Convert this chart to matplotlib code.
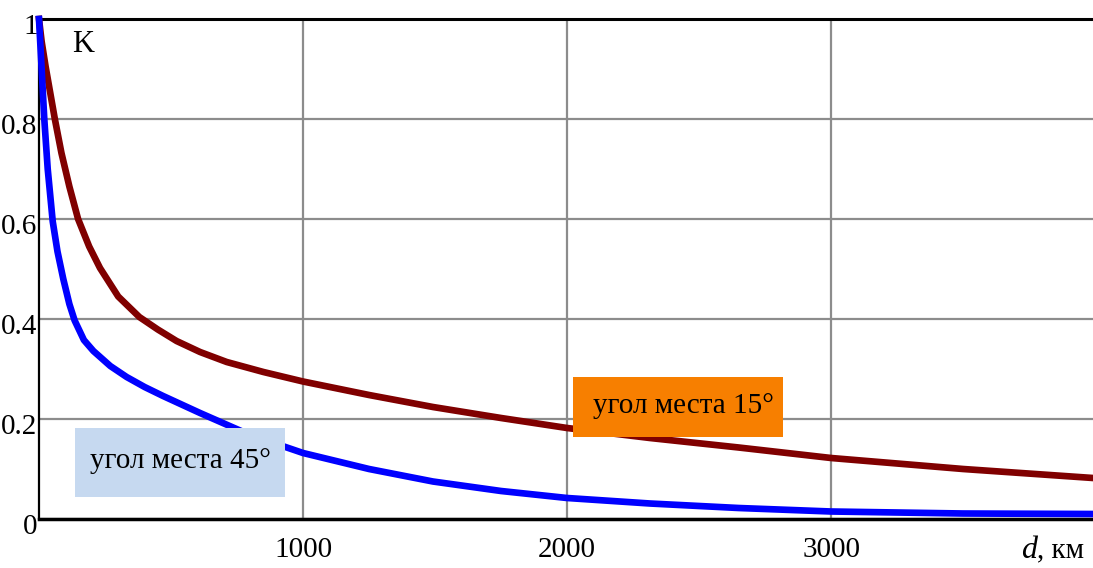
import matplotlib
matplotlib.use("Agg")
import matplotlib.pyplot as plt
from matplotlib.patches import Rectangle
import matplotlib.transforms as mtransforms

# distance, km and coefficient K for elevation 15 deg
d15 = [0, 10, 25, 45, 60, 85, 115, 148, 190, 231, 300, 380, 450, 521, 610, 711, 850,
       1000, 1250, 1492, 1750, 2000, 2314, 2650, 3000, 3500, 3992]
k15 = [1.0, 0.955, 0.905, 0.845, 0.80, 0.732, 0.665, 0.60, 0.545, 0.502, 0.445, 0.404, 0.379, 0.356, 0.334, 0.314, 0.294,
       0.275, 0.248, 0.224, 0.202, 0.182, 0.162, 0.143, 0.122, 0.10, 0.082]

# distance, km and coefficient K for elevation 45 deg
d45 = [0, 5, 12, 20, 33, 52, 70, 92, 115, 135, 170, 206, 270, 332, 400, 470, 610, 800,
       1000, 1250, 1492, 1750, 2000, 2314, 2650, 3000, 3500, 3992]
k45 = [1.0, 0.95, 0.88, 0.80, 0.70, 0.595, 0.535, 0.48, 0.43, 0.397, 0.358, 0.336, 0.306, 0.284, 0.264, 0.246, 0.212, 0.168,
       0.132, 0.10, 0.075, 0.056, 0.042, 0.031, 0.022, 0.015, 0.011, 0.010]

xticks = [1000, 2000, 3000]
yticks = [0, 0.2, 0.4, 0.6, 0.8, 1.0]
ylabels = ["0", "0.2", "0.4", "0.6", "0.8", "1"]
label15 = "угол места 15°"
label45 = "угол места 45°"

FS = 21
W, H = 1093, 568
plt.rcParams['font.family'] = ['Liberation Serif', 'DejaVu Serif']
fig = plt.figure(figsize=(W / 100, H / 100), dpi=100)

def fx(px):
    return px / W

def fy(py):
    return 1 - py / H

ext = 0.01
ax = fig.add_axes([fx(39), fy(519), fx(W) - fx(39) + ext, fy(19) - fy(519)])
ax.set_xlim(0, 3992 * (1 + ext * W / (W - 39)))
ax.set_ylim(0, 1)

ax.set_axisbelow(True)
ax.grid(True, color='#8c8c8c', lw=1.6, zorder=1)
ax.set_xticks(xticks)
ax.set_xticklabels([str(t) for t in xticks], fontsize=FS)
ax.set_yticks(yticks)
ax.set_yticklabels(ylabels, fontsize=FS)
ax.tick_params(length=0, pad=1)
ax.tick_params(axis='x', pad=13)
offset = mtransforms.ScaledTranslation(0, -5 / 100, fig.dpi_scale_trans)
for lab in ax.get_yticklabels():
    lab.set_transform(lab.get_transform() + offset)

ax.spines['right'].set_visible(False)
ax.spines['left'].set_linewidth(1.6)
ax.spines['bottom'].set_linewidth(2.5)
ax.spines['top'].set_linewidth(2.2)
for s in ['left', 'bottom', 'top']:
    ax.spines[s].set_color('black')

# label boxes
fig.patches.append(Rectangle((fx(75), fy(497)), fx(285) - fx(75), fy(428) - fy(497),
                             transform=fig.transFigure, facecolor='#c6d9f0', edgecolor='none', zorder=0.5))
fig.patches.append(Rectangle((fx(573), fy(437)), fx(783) - fx(573), fy(377) - fy(437),
                             transform=fig.transFigure, facecolor='#f77f00', edgecolor='none', zorder=0.5))
ax.patch.set_alpha(0)
fig.text(fx(180), fy(461), label45, fontsize=FS, ha='center', va='center')
fig.text(fx(683), fy(406), label15, fontsize=FS, ha='center', va='center')

ax.plot(d15, k15, color='#800000', lw=4.8, solid_joinstyle='round', zorder=3, clip_on=False)
ax.plot(d45, k45, color='#0000ff', lw=4.8, solid_joinstyle='round', zorder=3, clip_on=False)

fig.text(fx(72), fy(44), "K", fontsize=22, ha='left', va='center')
fig.text(fx(1021), fy(550), "d", fontsize=FS + 2, style='italic', ha='left', va='center')
fig.text(fx(1084), fy(550), ", км", fontsize=FS, ha='right', va='center')

fig.savefig("out.png", dpi=100)
